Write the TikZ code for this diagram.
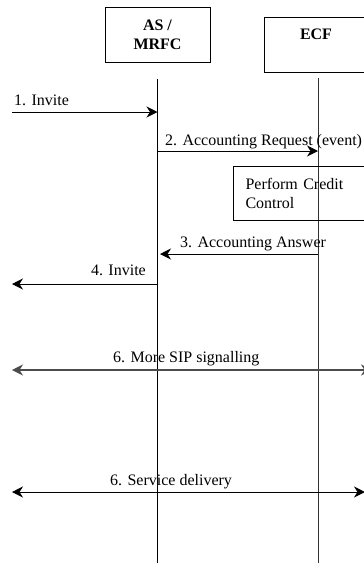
\documentclass[tikz,border=0pt]{standalone}
\usepackage{fontspec}
\setmainfont{Liberation Serif}
\usetikzlibrary{arrows.meta}
\begin{document}
\begin{tikzpicture}[x=1pt,y=-1pt,
  entity/.style={draw, line width=1pt, minimum width=105pt, minimum height=55pt,
    inner sep=0pt, align=center, font=\bfseries\fontsize{16}{19}\selectfont},
  lifeline/.style={line width=1pt},
  msg/.style={line width=1pt, -{Stealth[length=11pt,width=11pt,inset=3.5pt]}},
  bothways/.style={line width=1pt, {Stealth[length=11pt,width=11pt,inset=3.5pt]}-{Stealth[length=11pt,width=11pt,inset=3.5pt]}},
  lbl/.style={font=\fontsize{16}{19}\selectfont, inner sep=0pt}]
\useasboundingbox (0,0) rectangle (364,563);
\clip (0,0) rectangle (364,563);

% entities
\node[entity] (as) at (157.5,34.5) {AS /\\MRFC};
\node[entity, anchor=north west] (ecf) at (264,17) {};
\node[lbl, font=\bfseries\fontsize{16}{19}\selectfont, anchor=base] (ecflabel) at (316,39) {ECF};

% lifelines
\coordinate (asT) at (157.5,79);
\coordinate (asB) at (157.5,563);
\coordinate (ecfT) at (318,78);
\coordinate (ecfB) at (318,563);
\draw[lifeline] (asT) -- (asB);
\draw[lifeline, black!80] (ecfT) -- (ecfB);

% credit control box
\node[draw, line width=1pt, anchor=north west, minimum width=142pt, minimum height=54pt,
  inner xsep=12pt, text width=118pt, align=left, font=\fontsize{16}{19}\selectfont]
  (pcc) at (233,166) {Perform Credit\\Control};

% 1. Invite
\coordinate (m1) at (12,112);
\draw[msg] (m1) -- (m1 -| asT);
\node[lbl, anchor=base west] (l1) at (14,105) {1. Invite};

% 2. Accounting Request
\coordinate (m2) at (157.5,151);
\draw[msg] (m2) -- (m2 -| ecfT);
\node[lbl, anchor=base west] (l2) at (165,145) {2. Accounting Request (event)};

% 3. Accounting Answer
\coordinate (m3) at (318,254);
\coordinate (m3e) at (160,254);
\draw[msg] (m3) -- (m3e);
\node[lbl, anchor=base west] (l3) at (180,247) {3. Accounting Answer};

% 4. Invite
\coordinate (m4) at (157.5,284);
\coordinate (m4e) at (12,284);
\draw[msg] (m4) -- (m4e);
\node[lbl, anchor=base east] (l4) at (146,275) {4. Invite};

% 6. More SIP signalling (right end runs off the edge)
\coordinate (m5a) at (12,370);
\coordinate (m5b) at (372,370);
\draw[bothways, line width=1.2pt, black!70] (m5a) -- (m5b);
\node[lbl, anchor=base west] (l5) at (113,362) {6. More SIP signalling};

% 6. Service delivery
\coordinate (m6a) at (12,492);
\coordinate (m6b) at (365,492);
\draw[bothways] (m6a) -- (m6b);
\node[lbl, anchor=base west] (l6) at (110,485) {6. Service delivery};
\end{tikzpicture}
\end{document}
